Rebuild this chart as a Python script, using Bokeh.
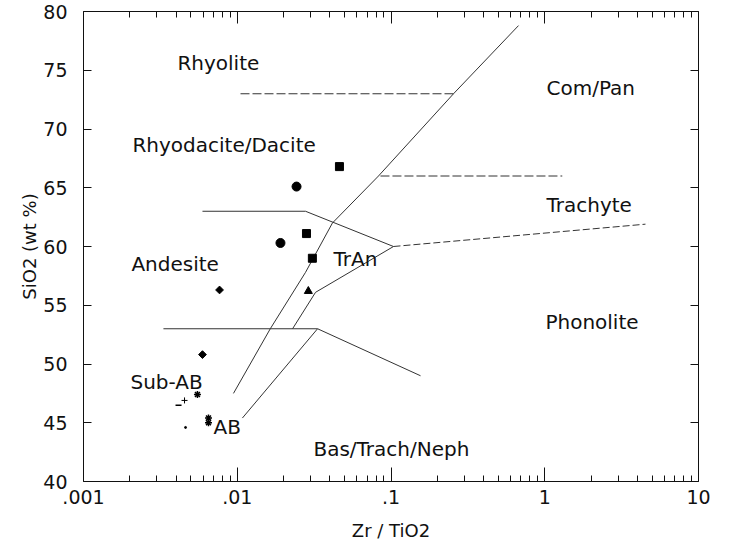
import math
from bokeh.plotting import figure
from bokeh.models import LogAxis, LinearAxis, FixedTicker, CustomJSTickFormatter
from bokeh.core.properties import value
from bokeh.embed import file_html
from bokeh.resources import INLINE

# ---------------- data ----------------
# field boundaries (Zr/TiO2, SiO2)
b1_x = [0.00945, 0.0164, 0.0278, 0.0416, 0.0829, 0.255, 0.675]
b1_y = [47.5, 53.0, 57.8, 62.0, 66.0, 73.0, 78.8]
b2_x = [0.0229, 0.0323, 0.1038]
b2_y = [53.0, 56.1, 60.0]
b3_x = [0.1038, 4.52]
b3_y = [60.0, 61.9]
b4_x = [0.00594, 0.0278, 0.1038]
b4_y = [63.0, 63.0, 60.0]
b5_x = [0.00331, 0.0333, 0.1556]
b5_y = [53.0, 53.0, 49.0]
b6_x = [0.0108, 0.0333]
b6_y = [45.4, 53.0]
b7_x = [0.0105, 0.255]
b7_y = [73.0, 73.0]
b8_x = [0.0854, 1.30]
b8_y = [66.0, 66.0]

# samples
sq_x = [0.0462, 0.0282, 0.0308]
sq_y = [66.8, 61.1, 59.0]
ci_x = [0.0243, 0.0191]
ci_y = [65.1, 60.3]
di_x = [0.00767, 0.00594]
di_y = [56.3, 50.8]
tr_x = [0.0290]
tr_y = [56.2]
as_x = [0.00551, 0.0065, 0.0065]
as_y = [47.4, 45.4, 45.0]
pl_x = [0.00454]
pl_y = [46.9]
da_x = [0.00415]
da_y = [46.5]
do_x = [0.00461]
do_y = [44.6]

# field names
label_text = ["Rhyolite", "Rhyodacite/Dacite", "Com/Pan", "Trachyte", "Phonolite",
              "Andesite", "TrAn", "Sub-AB", "AB", "Bas/Trach/Neph"]
label_x = [0.00408, 0.00208, 1.026, 1.026, 1.01, 0.00205, 0.0423, 0.00202, 0.00701, 0.0313]
label_y = [75.6, 68.6, 73.45, 63.5, 53.6, 58.5, 58.9, 48.5, 44.6, 42.8]

x_major = [0.001, 0.01, 0.1, 1, 10]
x_minor = [m * 10.0 ** e for e in range(-3, 1) for m in range(2, 10)]
y_major = [40, 45, 50, 55, 60, 65, 70, 75, 80]

# ---------------- figure ----------------
FONT = "DejaVu Sans"
p = figure(x_axis_type="log", x_range=(0.001, 10), y_range=(40, 80),
           frame_width=615, frame_height=470,
           min_border_left=83, min_border_right=22, min_border_top=11, min_border_bottom=55,
           output_backend="svg", toolbar_location=None)
p.xgrid.visible = False
p.ygrid.visible = False
p.outline_line_color = None
p.background_fill_color = "white"
p.border_fill_color = "white"

fmt = CustomJSTickFormatter(code="return tick >= 1 ? tick.toFixed(0) : String(tick).replace(/^0/, '');")
xa = p.xaxis[0]
xa.ticker = FixedTicker(ticks=x_major, minor_ticks=x_minor)
xa.formatter = fmt
xa.axis_label = "Zr / TiO2"
ya = p.yaxis[0]
ya.ticker = FixedTicker(ticks=y_major, minor_ticks=[])
ya.axis_label = "SiO2 (wt %)"

for ax in (xa, ya):
    ax.axis_line_color = "#111"
    ax.major_tick_line_color = "#111"
    ax.minor_tick_line_color = "#111"
    ax.major_tick_out = 0
    ax.minor_tick_out = 0
    ax.major_label_text_font = FONT
    ax.major_label_text_font_size = "19px"
    ax.major_label_text_color = "#111"
    ax.axis_label_text_font = FONT
    ax.axis_label_text_font_size = "18px"
    ax.axis_label_text_font_style = "normal"
    ax.axis_label_text_color = "#111"
xa.major_tick_in = 14
xa.minor_tick_in = 6
xa.major_label_standoff = 8
xa.axis_label_standoff = 13
ya.major_tick_in = 8
ya.major_label_standoff = 16
ya.axis_label_standoff = 0

top = LogAxis(ticker=FixedTicker(ticks=x_major, minor_ticks=x_minor))
right = LinearAxis(ticker=FixedTicker(ticks=y_major, minor_ticks=[]))
for ax in (top, right):
    ax.axis_line_color = "#111"
    ax.major_tick_line_color = "#111"
    ax.minor_tick_line_color = "#111"
    ax.major_tick_out = 0
    ax.minor_tick_out = 0
    ax.major_label_text_font_size = "1px"
    ax.major_label_text_color = None
    ax.major_label_standoff = 0
top.major_tick_in = 12
top.minor_tick_in = 6
right.major_tick_in = 8
p.add_layout(top, "above")
p.add_layout(right, "right")

# boundaries
LC = "#333"
for bx, by, dash in [(b1_x, b1_y, "solid"), (b2_x, b2_y, "solid"), (b3_x, b3_y, "7 3"),
                     (b4_x, b4_y, "solid"), (b5_x, b5_y, "solid"), (b6_x, b6_y, "solid"),
                     (b7_x, b7_y, "9 3"), (b8_x, b8_y, "9 3")]:
    p.line(bx, by, line_color=LC, line_width=1, line_dash=dash)

# samples
MC = "black"
p.scatter(sq_x, sq_y, marker="square", size=8, color=MC)
p.scatter(ci_x, ci_y, marker="circle", size=9, color=MC)
p.scatter(di_x, di_y, marker="square", size=5.5, angle=math.pi / 4, color=MC)
p.scatter(tr_x, tr_y, marker="triangle", size=8, color=MC)
p.scatter(as_x, as_y, marker="asterisk", size=7, line_color=MC, line_width=1.5)
p.scatter(pl_x, pl_y, marker="cross", size=6, line_color=MC, line_width=1)
p.scatter(da_x, da_y, marker="dash", size=6, line_color=MC, line_width=1.5)
p.scatter(do_x, do_y, marker="circle", size=2, color=MC)

# labels
p.text(label_x, label_y, text=label_text, text_font=value(FONT), text_font_size="20px",
       text_color="#111", text_align="left", text_baseline="middle")

open("out.html", "w").write(file_html(p, INLINE))
